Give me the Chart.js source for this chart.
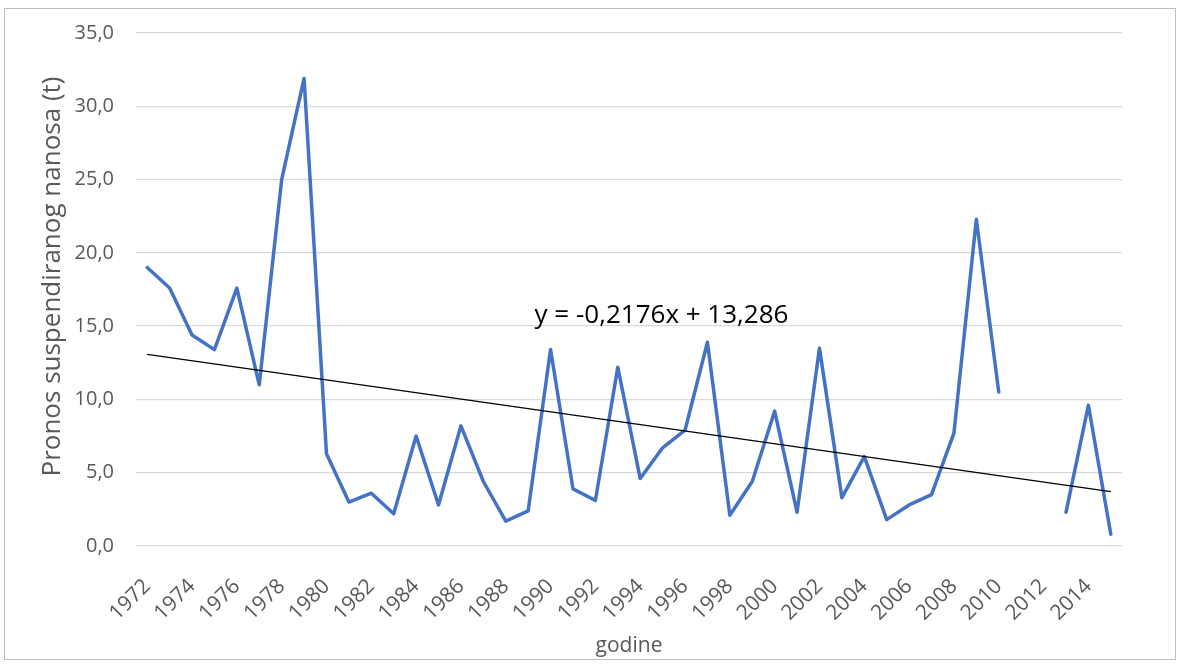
<!DOCTYPE html>
<html>
<head>
<meta charset="utf-8">
<script src="https://cdn.jsdelivr.net/npm/chart.js@4"></script>
<style>
  html, body { margin: 0; padding: 0; background: #fff; }
  #box {
    position: absolute; left: 4px; top: 8px;
    width: 1172px; height: 652px;
    box-sizing: border-box; border: 1px solid #bfbfbf;
  }
  #chart { display: block; }
</style>
</head>
<body>
<div id="box"><canvas id="chart" width="1170" height="650"></canvas></div>
<script>
const years = ['1972','1973','1974','1975','1976','1977','1978','1979','1980','1981',
  '1982','1983','1984','1985','1986','1987','1988','1989','1990','1991',
  '1992','1993','1994','1995','1996','1997','1998','1999','2000','2001',
  '2002','2003','2004','2005','2006','2007','2008','2009','2010','2011',
  '2012','2013','2014','2015'];

const pronos = [19.0, 17.6, 14.4, 13.4, 17.6, 11.0, 25.0, 31.9, 6.3, 3.0,
  3.6, 2.2, 7.5, 2.8, 8.2, 4.4, 1.7, 2.4, 13.4, 3.9,
  3.1, 12.2, 4.6, 6.7, 7.9, 13.9, 2.1, 4.4, 9.2, 2.3,
  13.5, 3.3, 6.1, 1.8, 2.8, 3.5, 7.7, 22.3, 10.5, null,
  null, 2.3, 9.6, 0.8];

// linear trend, read at first and last year
const trendFirst = 13.07;
const trendLast = 3.71;
const trendLabel = 'y = -0,2176x + 13,286';
const yTitle = 'Pronos suspendiranog nanosa (t)';

const yTicks = [0, 5, 10, 15, 20, 25, 30, 35];

const trend = years.map((_, i) => i === 0 ? trendFirst : (i === years.length - 1 ? trendLast : null));

const fontFam = "'Open Sans', sans-serif";
const grey = '#595959';

// trendline equation + y axis title (Excel puts it a bit above the plot centre)
const extraText = {
  id: 'extraText',
  afterDatasetsDraw(chart) {
    const { ctx, scales: { x, y } } = chart;
    ctx.save();
    ctx.font = "26px " + fontFam;
    ctx.fillStyle = '#000';
    ctx.textAlign = 'center';
    ctx.textBaseline = 'middle';
    ctx.fillText(trendLabel, x.getPixelForValue(22.95), y.getPixelForValue(15.75));

    ctx.translate(48, (y.top + y.bottom) / 2 - 13);
    ctx.rotate(-Math.PI / 2);
    ctx.fillStyle = grey;
    ctx.fillText(yTitle, 0, 0);
    ctx.restore();
  }
};

new Chart(document.getElementById('chart').getContext('2d'), {
  type: 'line',
  data: {
    labels: years,
    datasets: [{
      data: pronos,
      borderColor: '#4472c4',
      borderWidth: 3.5,
      borderJoinStyle: 'round',
      borderCapStyle: 'round',
      pointRadius: 0,
      spanGaps: false,
      tension: 0,
      order: 2
    }, {
      data: trend,
      borderColor: '#000',
      borderWidth: 1.2,
      pointRadius: 0,
      spanGaps: true,
      tension: 0,
      order: 1
    }]
  },
  options: {
    responsive: false,
    animation: false,
    layout: { padding: { top: 24, right: 53, left: 0, bottom: 0 } },
    plugins: {
      legend: { display: false },
      tooltip: { enabled: false }
    },
    scales: {
      x: {
        offset: true,
        grid: { display: false, drawTicks: false },
        border: { display: false },
        ticks: {
          color: grey,
          font: { size: 21, family: fontFam },
          autoSkip: false,
          maxRotation: 45,
          minRotation: 45,
          padding: 28,
          callback: function (v, i) { return i % 2 === 0 ? this.getLabelForValue(v) : ''; }
        },
        title: {
          display: true,
          text: 'godine',
          color: grey,
          font: { size: 21, family: fontFam },
          padding: { top: 0, bottom: 0 }
        },
        afterFit: (s) => { s.height = 113; }
      },
      y: {
        min: 0,
        max: 35,
        afterBuildTicks: (s) => { s.ticks = yTicks.map(v => ({ value: v })); },
        grid: { color: '#d9d9d9', lineWidth: 1.3, drawTicks: false },
        border: { display: false },
        ticks: {
          color: grey,
          font: { size: 20, family: fontFam },
          padding: 22,
          callback: (v) => v.toFixed(1).replace('.', ',')
        },
        afterFit: (s) => { s.width = 131; s.paddingTop = 0; s.paddingBottom = 0; }
      }
    }
  },
  plugins: [extraText]
});
</script>
</body>
</html>
